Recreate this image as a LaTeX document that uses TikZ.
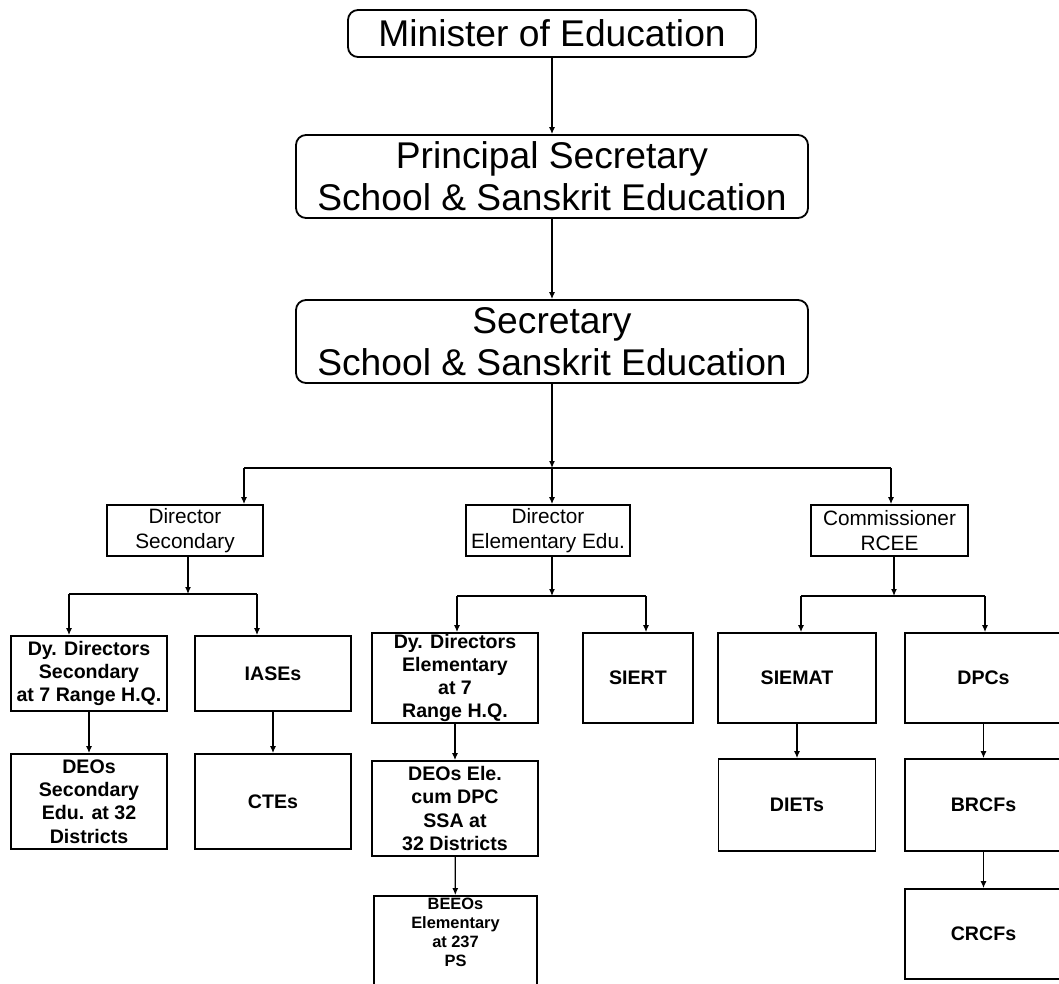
\documentclass[tikz,border=0pt]{standalone}
\usepackage{fontspec}
\setmainfont{Liberation Sans}
\usetikzlibrary{arrows.meta}

\begin{document}
\begin{tikzpicture}[
  x=0.5pt, y=-0.5pt,
  >={Latex[length=3.5pt,width=3pt]},
  topbox/.style={rectangle, draw, rounded corners=5pt, line width=0.9pt, minimum height=41.5pt, inner sep=0pt, align=center, font=\fontsize{18.6}{21}\selectfont},
  dirbox/.style={rectangle, draw, line width=0.9pt, minimum height=25.5pt, inner sep=0pt, align=center, font=\fontsize{10.4}{12.5}\selectfont},
  unitbox/.style={rectangle, draw, line width=0.9pt, inner sep=0pt, align=center, font=\bfseries\fontsize{9.8}{11.6}\selectfont},
  beeostext/.style={anchor=north, inner sep=0pt, yshift=-1pt, align=center, font=\bfseries\fontsize{8.2}{9.5}\selectfont},
  every path/.style={semithick}
]
\useasboundingbox (0,0) rectangle (1059,984);

\node[topbox, minimum width=204pt, minimum height=23.5pt] (minister) at (552,33.5) {Minister of Education};
\node[topbox, minimum width=256pt] (psec) at (552,176.5) {Principal Secretary\\School \& Sanskrit Education};
\node[topbox, minimum width=256pt] (sec) at (552,341.5) {Secretary\\School \& Sanskrit Education};

\node[dirbox, minimum width=78pt] (dirsec) at (185,530.5) {Director\\Secondary};
\node[dirbox, minimum width=82pt] (direle) at (548,530.5) {Director\\Elementary Edu.};
\node[dirbox, minimum width=78.5pt] (comm) at (889.5,530.5) {Commissioner\\RCEE};

\node[unitbox, minimum width=78pt, minimum height=37.5pt] (dydirsec) at (89,673.5) {Dy. Directors\\Secondary\\at 7 Range H.Q.};
\node[unitbox, minimum width=78pt, minimum height=37.5pt] (iases) at (273,673.5) {IASEs};
\node[unitbox, minimum width=83pt, minimum height=45pt] (dydirele) at (455,678) {Dy. Directors\\Elementary\\at 7\\Range H.Q.};
\node[unitbox, minimum width=55pt, minimum height=45pt] (siert) at (638,678) {SIERT};
\node[unitbox, minimum width=79pt, minimum height=45pt] (siemat) at (797,678) {SIEMAT};
\node[unitbox, minimum width=78.5pt, minimum height=45pt] (dpcs) at (983.5,678) {DPCs};

\node[unitbox, minimum width=78pt, minimum height=47.5pt] (deosec) at (89,801.5) {DEOs\\Secondary\\Edu. at 32\\Districts};
\node[unitbox, minimum width=78pt, minimum height=47.5pt] (ctes) at (273,801.5) {CTEs};
\node[unitbox, minimum width=83pt, minimum height=47.5pt] (deoele) at (455,808.5) {DEOs Ele.\\cum DPC\\SSA at\\32 Districts};
\node[unitbox, minimum width=78.5pt, minimum height=46pt] (diets) at (797,805) {DIETs};
\node[unitbox, minimum width=78.5pt, minimum height=46pt] (brcfs) at (983.5,805) {BRCFs};

\node[unitbox, minimum width=81.5pt, minimum height=52pt, label={[beeostext]north:BEEOs\\Elementary\\at 237\\PS}] (beeos) at (455.5,948) {};
\node[unitbox, minimum width=78.5pt, minimum height=45pt] (crcfs) at (983.5,934) {CRCFs};

\coordinate (t0) at (552,468);
\coordinate (t0l) at (244,468);
\coordinate (t0r) at (891,468);
\coordinate (f1) at (188,594);
\coordinate (f1l) at (69,594);
\coordinate (f1r) at (257,594);
\coordinate (f2) at (552,596);
\coordinate (f2l) at (457,596);
\coordinate (f2r) at (646,596);
\coordinate (f3) at (894,596);
\coordinate (f3l) at (801,596);
\coordinate (f3r) at (985,596);

\draw[->] (minister) -- (psec);
\draw[->] (psec) -- (sec);
\draw[->] (sec) -- (t0);
\draw (t0l) -- (t0r);
\draw[->] (t0l) -- (t0l |- dirsec.north);
\draw[->] (t0) -- (t0 |- direle.north);
\draw[->] (t0r) -- (t0r |- comm.north);

\draw[->] (f1 |- dirsec.south) -- (f1);
\draw (f1l) -- (f1r);
\draw[->] (f1l) -- (f1l |- dydirsec.north);
\draw[->] (f1r) -- (f1r |- iases.north);

\draw[->] (f2 |- direle.south) -- (f2);
\draw (f2l) -- (f2r);
\draw[->] (f2l) -- (f2l |- dydirele.north);
\draw[->] (f2r) -- (f2r |- siert.north);

\draw[->] (f3 |- comm.south) -- (f3);
\draw (f3l) -- (f3r);
\draw[->] (f3l) -- (f3l |- siemat.north);
\draw[->] (f3r) -- (f3r |- dpcs.north);

\draw[->] (dydirsec) -- (deosec);
\draw[->] (iases) -- (ctes);
\draw[->] (dydirele) -- (deoele);
\draw[->] (deoele) -- (beeos);
\draw[->] (siemat) -- (diets);
\draw[->] (dpcs) -- (brcfs);
\draw[->] (brcfs) -- (crcfs);
\end{tikzpicture}
\end{document}
